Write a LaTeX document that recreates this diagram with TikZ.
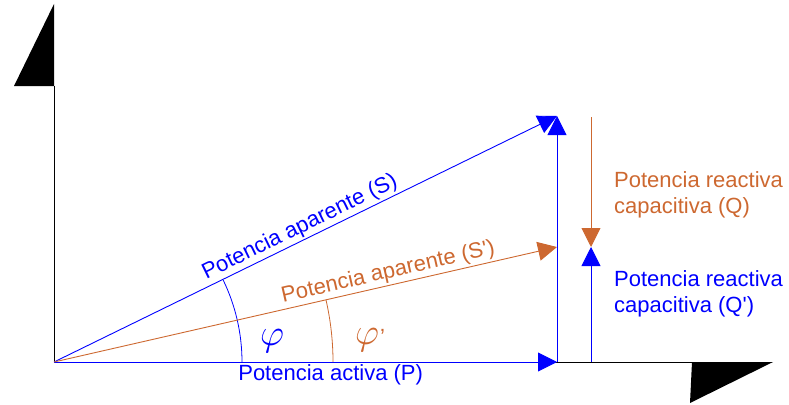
\documentclass[tikz,border=0pt]{standalone}
\usepackage{fontspec}
\setmainfont{Liberation Sans}
\usetikzlibrary{positioning,arrows.meta}
\definecolor{activa}{RGB}{0,0,255}
\definecolor{nueva}{RGB}{205,104,48}
\newcommand{\angphi}{\scalebox{1.8}{$\varphi$}}

\begin{document}
\begin{tikzpicture}[
  x=1pt, y=-1pt,
  every node/.style={font=\fontsize{22}{26}\selectfont, inner sep=2pt},
  vec/.style={-{Triangle[length=19pt,width=19pt]}, line width=0.9pt},
  label/.style={align=left, anchor=west, inner sep=0pt},
  angulo/.style={inner sep=0pt}
]
\useasboundingbox (0,0) rectangle (789,404);
% ejes
\coordinate (O) at (54,362);
\coordinate (ytop) at (54,86);
\coordinate (xend) at (692,362);
\draw[line width=0.9pt] (ytop) -- (O) -- (xend);
\fill (ytop) -- (54,4) -- (14,86) -- cycle;
\fill (xend) -- (773,362) -- (690,403) -- cycle;
% puntos
\coordinate (P) at (557,362);
\coordinate (S) at (557,116);
\coordinate (Sp) at (557,247);
\coordinate (Qtop) at (591,117);
\coordinate (Qmid) at (591,247);
\coordinate (Qbot) at (591,362);
% triangulo original
\draw[vec, activa] (O) -- node[below, pos=0.55] (lblP) {Potencia activa (P)} (P);
\draw[vec, activa] (P) -- (S);
\draw[vec, activa] (O) -- node[above, sloped, pos=0.5] (lblS) {Potencia aparente (S)} (S);
\draw[activa, line width=0.8pt] ([shift={(0:188)}]O) arc[start angle=0, end angle=-25.9, radius=188];
\node[angulo, activa] (phi) at (272,341) {\angphi};
% compensado
\draw[vec, nueva] (O) -- node[above, sloped, pos=0.67] (lblSp) {Potencia aparente (S\textquotesingle)} (Sp);
\draw[nueva, line width=0.8pt] ([shift={(0:279)}]O) arc[start angle=0, end angle=-12.85, radius=279];
\node[angulo, nueva] (phip) at (370,340) {\angphi\kern1pt’};
\draw[vec, nueva] (Qtop) -- (Qmid);
\draw[vec, activa] (Qbot) -- (Qmid);
\node[label, nueva] (lblQ) at (614,195) {Potencia reactiva\\capacitiva (Q)};
\node[label, activa] (lblQp) at (614,294) {Potencia reactiva\\capacitiva (Q\textquotesingle)};
\end{tikzpicture}
\end{document}
